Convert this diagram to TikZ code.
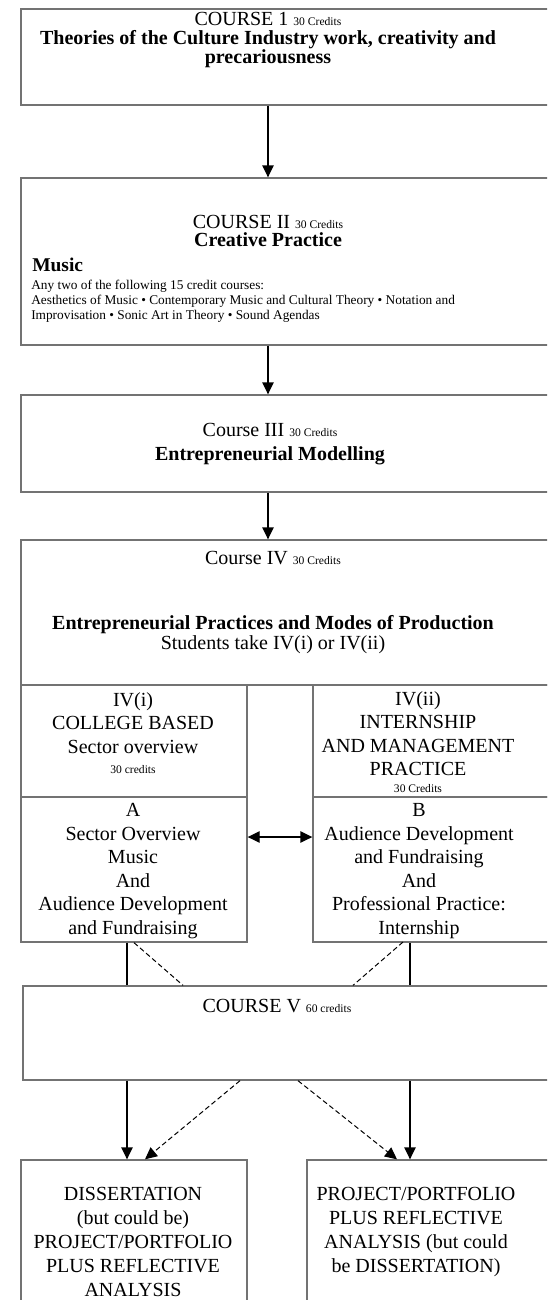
\documentclass[tikz,border=0pt]{standalone}
\usepackage{fontspec}
\setmainfont{Liberation Serif}
\usetikzlibrary{arrows.meta,fit}
\newcommand\crd[1]{{\fontsize{8.7}{10}\selectfont #1}}

\begin{document}
\begin{tikzpicture}[x=0.75pt,y=-0.75pt,
    frame/.style={draw=black!55,line width=1pt,inner sep=0pt},
    txt/.style={align=center,inner sep=0pt,font=\fontsize{15}{17.6}\selectfont},
    arr/.style={line width=1pt,-{Triangle[length=9pt,width=8.5pt]}},
    darr/.style={line width=0.75pt,dash pattern=on 3.75pt off 2.25pt,-{Triangle[length=9pt,width=8.5pt]}}]
  \useasboundingbox (0,0) rectangle (547,1300);
  \clip (0,0) rectangle (547,1300);

  % course boxes, the right side runs off the page
  \node[frame,fit={(21,9) (570,105)}] (c1) {};
  \node[frame,fit={(21,178) (570,345)}] (c2) {};
  \node[frame,fit={(21,395) (570,492)}] (c3) {};
  \node[frame,fit={(21,540) (570,685)}] (c4) {};
  \node[frame,fit={(21,685) (247,797)}] (c4i) {};
  \node[frame,fit={(21,797) (247,942)}] (c4a) {};
  \node[frame,fit={(313,685) (570,797)}] (c4ii) {};
  \node[frame,fit={(313,797) (570,942)}] (c4b) {};
  \node[frame,fit={(23,986) (570,1080)}] (c5) {};
  \node[frame,fit={(21,1160) (247,1340)}] (d1) {};
  \node[frame,fit={(307,1160) (570,1340)}] (d2) {};

  % texts
  \node[txt,font=\fontsize{15}{13.9}\selectfont] (c1t) at (268,40)
    {COURSE 1 \crd{30 Credits}\\ \textbf{Theories of the Culture Industry work, creativity and}\\ \textbf{precariousness}};
  \node[txt,font=\fontsize{15}{13.5}\selectfont] (c2t) at (268,231)
    {COURSE II \crd{30 Credits}\\ \textbf{Creative Practice}};
  \node[anchor=north west,inner sep=0pt,font=\fontsize{14.6}{16}\selectfont\bfseries] (c2m) at (32,258) {Music};
  \node[anchor=north west,inner sep=0pt,align=left,font=\fontsize{10}{11.25}\selectfont] (c2l) at (31,280)
    {Any two of the following 15 credit courses:\\
     Aesthetics of Music \textbullet{} Contemporary Music and Cultural Theory \textbullet{} Notation and\\
     Improvisation \textbullet{} Sonic Art in Theory \textbullet{} Sound Agendas};
  \node[txt,font=\fontsize{15}{18}\selectfont] (c3t) at (270,444)
    {Course III \crd{30 Credits}\\ \textbf{Entrepreneurial Modelling}};
  \node[txt,font=\fontsize{15}{15}\selectfont] (c4t) at (273,602)
    {Course IV \crd{30 Credits}\\[33.75pt] \textbf{Entrepreneurial Practices and Modes of Production}\\ Students take IV(i) or IV(ii)};
  \node[txt,anchor=north] (c4it) at (133,692) {IV(i)\\ COLLEGE BASED\\ Sector overview\\[-2pt] \crd{30 credits}};
  \node[txt,anchor=north] (c4iit) at (418,691) {IV(ii)\\ INTERNSHIP\\ AND MANAGEMENT\\ PRACTICE\\[-5pt] \crd{30 Credits}};
  \node[txt] (c4at) at (133,871) {A\\ Sector Overview\\ Music\\ And\\ Audience Development\\ and Fundraising};
  \node[txt] (c4bt) at (419,871) {B\\ Audience Development\\ and Fundraising\\ And\\ Professional Practice:\\ Internship};
  \node[txt] (c5t) at (277,1006) {COURSE V \crd{60 credits}};
  \node[txt,font=\fontsize{15}{18}\selectfont] (d1t) at (133,1242)
    {DISSERTATION\\ (but could be)\\ PROJECT/PORTFOLIO\\ PLUS REFLECTIVE\\ ANALYSIS};
  \node[txt,font=\fontsize{15}{18}\selectfont] (d2t) at (416,1232)
    {PROJECT/PORTFOLIO\\ PLUS REFLECTIVE\\ ANALYSIS (but could\\ be DISSERTATION)};

  % connectors
  \coordinate (spine) at (268,0);
  \coordinate (lx) at (127,0);
  \coordinate (rx) at (410,0);
  \coordinate (ab) at (0,837);
  \coordinate (u2) at (403,942);
  \coordinate (v1) at (183,0);
  \coordinate (v2) at (353,0);
  \coordinate (w1) at (240,0);
  \coordinate (w2) at (298,0);
  \coordinate (dl) at (145,0);
  \coordinate (dr) at (397,0);

  \draw[arr] (c1.south -| spine) -- (c2.north -| spine);
  \draw[arr] (c2.south -| spine) -- (c3.north -| spine);
  \draw[arr] (c3.south -| spine) -- (c4.north -| spine);
  \draw[line width=1pt,{Triangle[length=9pt,width=8.5pt]}-{Triangle[length=9pt,width=8.5pt]}] (c4a.east |- ab) -- (c4b.west |- ab);
  \draw[line width=1pt] (c4a.south -| lx) -- (c5.north -| lx);
  \draw[line width=1pt] (c4b.south -| rx) -- (c5.north -| rx);
  \draw[line width=0.75pt,dash pattern=on 3.75pt off 2.25pt] (c4a.south) -- (c5.north -| v1);
  \draw[line width=0.75pt,dash pattern=on 3.75pt off 2.25pt] (u2) -- (c5.north -| v2);
  \draw[arr] (c5.south -| lx) -- (d1.north -| lx);
  \draw[darr] (c5.south -| w1) -- (d1.north -| dl);
  \draw[darr] (c5.south -| w2) -- (d2.north -| dr);
  \draw[arr] (c5.south -| rx) -- (d2.north -| rx);
\end{tikzpicture}
\end{document}
